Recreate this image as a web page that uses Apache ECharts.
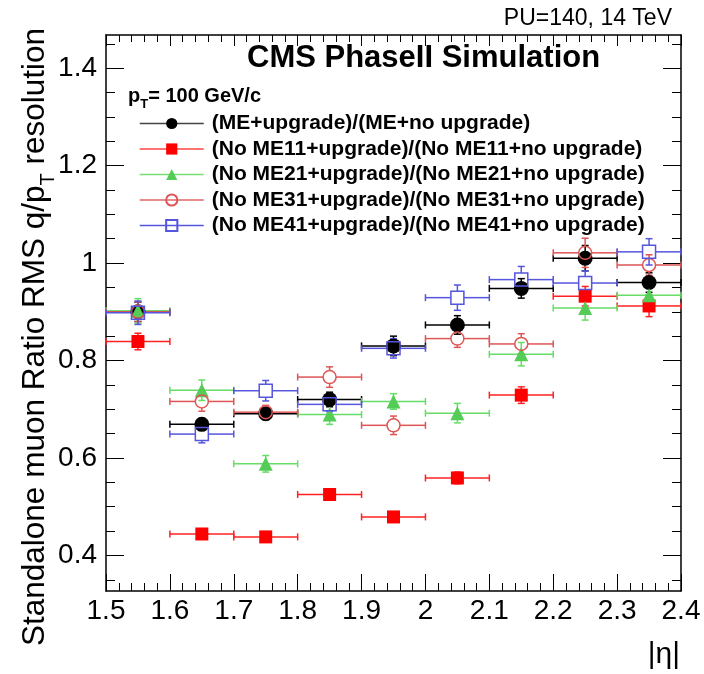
<!DOCTYPE html>
<html>
<head>
<meta charset="utf-8">
<script src="https://cdn.jsdelivr.net/npm/echarts@6/dist/echarts.min.js"></script>
<style>
  html, body { margin: 0; padding: 0; background: #fff; }
</style>
</head>
<body>
<!-- chart container -->
<div id="chart" style="width:704px; height:674px"></div>
<script>
// bin centres in |eta| (each bin is 0.1 wide)
var etaBins = [1.55, 1.65, 1.75, 1.85, 1.95, 2.05, 2.15, 2.25, 2.35];

// ratios and their errors, one array per configuration
var meAll    = [0.900, 0.669, 0.691, 0.720, 0.830, 0.873, 0.948, 1.010, 0.960];
var meAllErr = [0.020, 0.012, 0.012, 0.015, 0.020, 0.019, 0.020, 0.026, 0.020];
var noME11    = [0.839, 0.444, 0.438, 0.525, 0.479, 0.559, 0.729, 0.932, 0.912];
var noME11Err = [0.017, 0.010, 0.010, 0.010, 0.010, 0.012, 0.017, 0.020, 0.022];
var noME21    = [0.902, 0.739, 0.588, 0.689, 0.716, 0.692, 0.813, 0.908, 0.934];
var noME21Err = [0.025, 0.021, 0.017, 0.020, 0.016, 0.020, 0.024, 0.025, 0.027];
var noME31    = [0.900, 0.716, 0.694, 0.766, 0.667, 0.845, 0.834, 1.021, 0.996];
var noME31Err = [0.020, 0.020, 0.014, 0.021, 0.019, 0.018, 0.021, 0.030, 0.021];
var noME41    = [0.898, 0.649, 0.738, 0.710, 0.825, 0.929, 0.966, 0.959, 1.023];
var noME41Err = [0.024, 0.018, 0.021, 0.015, 0.020, 0.026, 0.027, 0.025, 0.027];

var seriesNames = [
    '(ME+upgrade)/(ME+no upgrade)',
    '(No ME11+upgrade)/(No ME11+no upgrade)',
    '(No ME21+upgrade)/(No ME21+no upgrade)',
    '(No ME31+upgrade)/(No ME31+no upgrade)',
    '(No ME41+upgrade)/(No ME41+no upgrade)'
];

// axis ticks
var yLabelTicks = [0.4, 0.6, 0.8, 1.0, 1.2, 1.4];
var yMinorTicks = [0.35, 0.4, 0.45, 0.5, 0.55, 0.6, 0.65, 0.7, 0.75, 0.8, 0.85, 0.9, 0.95,
                   1.0, 1.05, 1.1, 1.15, 1.2, 1.25, 1.3, 1.35, 1.4, 1.45];

var FONT = '"Liberation Sans", Arial, Helvetica, sans-serif';
var HALF_BIN = 0.05;

var myChart = echarts.init(document.getElementById('chart'));

function fmt(v) { return String(+v.toFixed(2)); }

function pairs(ys, errs) {
    return etaBins.map(function (x, i) { return [x, ys[i], errs[i]]; });
}

// error bars: horizontal bin width and vertical error, with a gap for the marker
function errorSeries(name, ys, errs, color, gap) {
    return {
        name: name + ' err',
        type: 'custom',
        z: 2,
        silent: true,
        data: pairs(ys, errs),
        renderItem: function (params, api) {
            var x = api.value(0), y = api.value(1), e = api.value(2);
            var c = api.coord([x, y]);
            var l = api.coord([x - HALF_BIN, y]);
            var r = api.coord([x + HALF_BIN, y]);
            var t = api.coord([x, y + e]);
            var b = api.coord([x, y - e]);
            var st = { stroke: color, lineWidth: 1.5 };
            var kids = [
                { type: 'line', shape: { x1: l[0], y1: c[1], x2: c[0] - gap, y2: c[1] }, style: st },
                { type: 'line', shape: { x1: c[0] + gap, y1: c[1], x2: r[0], y2: c[1] }, style: st },
                { type: 'line', shape: { x1: l[0], y1: c[1] - 3.5, x2: l[0], y2: c[1] + 3.5 }, style: st },
                { type: 'line', shape: { x1: r[0], y1: c[1] - 3.5, x2: r[0], y2: c[1] + 3.5 }, style: st }
            ];
            if (c[1] - t[1] > gap) {
                kids.push({ type: 'line', shape: { x1: c[0], y1: t[1], x2: c[0], y2: c[1] - gap }, style: st });
                kids.push({ type: 'line', shape: { x1: c[0] - 3.5, y1: t[1], x2: c[0] + 3.5, y2: t[1] }, style: st });
                kids.push({ type: 'line', shape: { x1: c[0], y1: c[1] + gap, x2: c[0], y2: b[1] }, style: st });
                kids.push({ type: 'line', shape: { x1: c[0] - 3.5, y1: b[1], x2: c[0] + 3.5, y2: b[1] }, style: st });
            }
            return { type: 'group', children: kids };
        }
    };
}

// markers: line series with an invisible line so the legend shows line + marker
function markerSeries(name, ys, symbol, size, itemStyle) {
    return {
        name: name,
        type: 'line',
        z: 3,
        data: etaBins.map(function (x, i) { return [x, ys[i]]; }),
        symbol: symbol,
        symbolSize: size,
        showAllSymbol: true,
        lineStyle: { opacity: 0 },
        itemStyle: itemStyle,
        emphasis: { disabled: true },
        animation: false
    };
}

var colBlack = '#000000', colRed = '#ff0000', colGreen = '#55cc55',
    colPink = '#dd5555', colBlue = '#5555dd';

var tickStyle = { color: '#000', width: 1 };

myChart.setOption({
    animation: false,
    backgroundColor: '#fff',
    grid: { left: 106, right: 23, top: 35, bottom: 83 },
    xAxis: [
        {
            type: 'value', position: 'bottom', min: 1.5, max: 2.4, interval: 0.1,
            axisLine: { lineStyle: { color: '#000', width: 1.5 } },
            axisTick: { inside: true, length: 17, lineStyle: tickStyle },
            minorTick: { show: true, splitNumber: 5, length: 8, lineStyle: tickStyle },
            splitLine: { show: false },
            axisLabel: { color: '#000', fontSize: 28, fontFamily: FONT, margin: 6, formatter: fmt }
        },
        {
            type: 'value', position: 'top', min: 1.5, max: 2.4, interval: 0.1,
            axisLine: { lineStyle: { color: '#000', width: 1.5 } },
            axisTick: { inside: true, length: 11, lineStyle: tickStyle },
            minorTick: { show: true, splitNumber: 5, length: 7, lineStyle: tickStyle },
            splitLine: { show: false },
            axisLabel: { show: false }
        }
    ],
    yAxis: [
        {
            type: 'value', position: 'left', min: 0.327, max: 1.468,
            axisLine: { show: true, lineStyle: { color: '#000', width: 1.5 } },
            axisTick: { inside: true, length: 18, customValues: yLabelTicks, lineStyle: tickStyle },
            splitLine: { show: false },
            axisLabel: { color: '#000', fontSize: 28, fontFamily: FONT, margin: 9,
                         customValues: yLabelTicks, formatter: fmt }
        },
        {
            type: 'value', position: 'left', min: 0.327, max: 1.468,
            axisLine: { show: false },
            axisTick: { inside: true, length: 9, customValues: yMinorTicks, lineStyle: tickStyle },
            splitLine: { show: false },
            axisLabel: { show: false }
        },
        {
            type: 'value', position: 'right', min: 0.327, max: 1.468,
            axisLine: { show: true, lineStyle: { color: '#000', width: 1.5 } },
            axisTick: { inside: true, length: 18, customValues: yLabelTicks, lineStyle: tickStyle },
            splitLine: { show: false },
            axisLabel: { show: false }
        },
        {
            type: 'value', position: 'right', min: 0.327, max: 1.468,
            axisLine: { show: false },
            axisTick: { inside: true, length: 9, customValues: yMinorTicks, lineStyle: tickStyle },
            splitLine: { show: false },
            axisLabel: { show: false }
        }
    ],
    legend: {
        orient: 'vertical',
        left: 134,
        top: 108,
        itemWidth: 64,
        itemHeight: 14,
        itemGap: 4.5,
        selectedMode: false,
        data: [
            { name: seriesNames[0], lineStyle: { opacity: 1, color: '#444', width: 1.5 } },
            { name: seriesNames[1], lineStyle: { opacity: 1, color: '#ff4444', width: 1.5 } },
            { name: seriesNames[2], lineStyle: { opacity: 1, color: '#77dd77', width: 1.5 } },
            { name: seriesNames[3], lineStyle: { opacity: 1, color: '#dd6666', width: 1.5 } },
            { name: seriesNames[4], lineStyle: { opacity: 1, color: '#5555dd', width: 1.5 } }
        ],
        textStyle: { color: '#000', fontSize: 21, fontWeight: 'bold', fontFamily: FONT,
                     padding: [0, 0, 0, 3] }
    },
    graphic: [
        {
            type: 'text', x: 672, y: 19,
            style: { text: 'PU=140, 14 TeV', fill: '#000', font: '23px ' + FONT,
                     align: 'right', verticalAlign: 'middle' }
        },
        {
            type: 'text', x: 247, y: 58,
            style: { text: 'CMS PhaseII Simulation', fill: '#000', font: 'bold 31px ' + FONT,
                     align: 'left', verticalAlign: 'middle' }
        },
        {
            type: 'text', x: 128, y: 96,
            style: {
                text: '{n|p}{s|T}{n|= 100 GeV/c}',
                align: 'left', verticalAlign: 'middle',
                rich: {
                    n: { fontSize: 20, fontWeight: 'bold', fontFamily: FONT, color: '#000', lineHeight: 30 },
                    s: { fontSize: 13, fontWeight: 'bold', fontFamily: FONT, color: '#000', lineHeight: 30,
                         verticalAlign: 'bottom' }
                }
            }
        },
        {
            type: 'text', x: 35, y: 646, rotation: Math.PI / 2,
            style: {
                text: '{n|Standalone muon Ratio RMS q/p}{s|T}{n| resolution}',
                align: 'left', verticalAlign: 'middle',
                rich: {
                    n: { fontSize: 31.5, fontFamily: FONT, color: '#000', lineHeight: 46 },
                    s: { fontSize: 20, fontFamily: FONT, color: '#000', lineHeight: 46,
                         verticalAlign: 'bottom' }
                }
            }
        },
        {
            type: 'text', x: 680, y: 655,
            style: { text: '|η|', fill: '#000', font: '30px ' + FONT,
                     align: 'right', verticalAlign: 'middle' }
        }
    ],
    series: [
        errorSeries('s0', meAll, meAllErr, colBlack, 0),
        errorSeries('s1', noME11, noME11Err, '#ff2222', 0),
        errorSeries('s2', noME21, noME21Err, '#66dd66', 0),
        errorSeries('s3', noME31, noME31Err, colPink, 6.5),
        errorSeries('s4', noME41, noME41Err, colBlue, 6.5),
        markerSeries(seriesNames[0], meAll, 'circle', 15, { color: colBlack }),
        markerSeries(seriesNames[1], noME11, 'rect', 13, { color: colRed }),
        markerSeries(seriesNames[2], noME21, 'triangle', 14, { color: colGreen }),
        markerSeries(seriesNames[3], noME31, 'circle', 13,
                     { color: 'rgba(0,0,0,0)', borderColor: colPink, borderWidth: 1.5 }),
        markerSeries(seriesNames[4], noME41, 'rect', 13,
                     { color: 'rgba(0,0,0,0)', borderColor: colBlue, borderWidth: 1.5 })
    ]
});
</script>
</body>
</html>
